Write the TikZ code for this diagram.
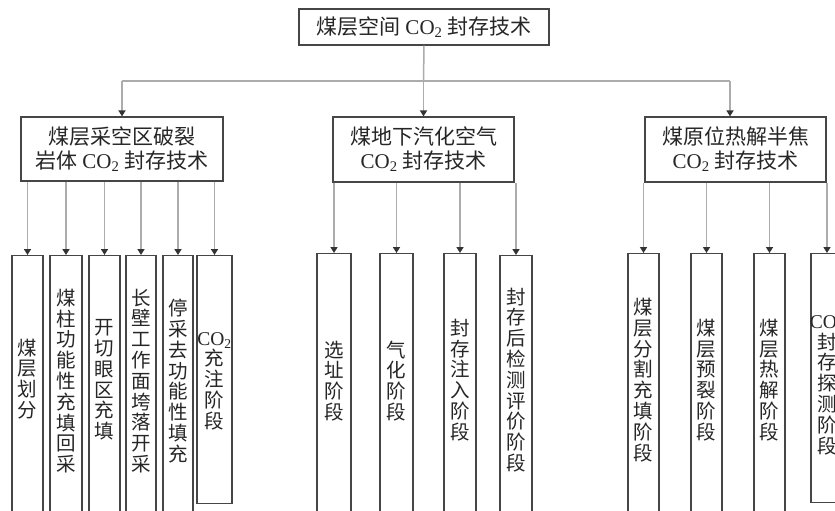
\documentclass[tikz,border=0pt]{standalone}
\usepackage{fontspec}
\setmainfont{Liberation Serif}
\newfontfamily\cjk{Noto Sans CJK SC}
\usetikzlibrary{arrows.meta}
\newcommand\cotwo{{\rmfamily CO\textsubscript{2}}}
\begin{document}
\begin{tikzpicture}[x=1pt,y=-1pt,
 box/.style={draw=gray!55!black, line width=1.2pt, inner sep=0pt, font=\cjk\fontsize{21}{24}\selectfont, align=center, text=black!85},
 leaf/.style={draw=gray!55!black, line width=1.2pt, inner sep=0pt, anchor=north},
 vtext/.style={font=\cjk\fontsize{19.5}{20.8}\selectfont, align=center, inner sep=0pt, text=black!85},
 conn/.style={draw=gray!65, line width=1.5pt},
 arr/.style={conn, -{Triangle[width=7pt,length=6pt,color=black!80,fill=black!80]}}]
\useasboundingbox (0,0) rectangle (835,511);
\clip (0,0) rectangle (835,511);
\fill[white] (0,0) rectangle (835,511);

% top
\node[box, minimum width=250pt, minimum height=36pt] (top) at (424,27) {煤层空间 \cotwo{} 封存技术};
% mid
\node[box, minimum width=202pt, minimum height=64pt] (m1) at (122,149) {煤层采空区破裂\\岩体 \cotwo{} 封存技术};
\node[box, minimum width=181pt, minimum height=65pt] (m2) at (423.5,149.5) {煤地下汽化空气\\\cotwo{} 封存技术};
\node[box, minimum width=181pt, minimum height=65pt] (m3) at (735.5,149.5) {煤原位热解半焦\\\cotwo{} 封存技术};

\coordinate (bus) at (423.5,81);
\coordinate (b1) at (122,81);
\coordinate (b3) at (730,81);
\draw[conn] (top.south) -- (bus);
\draw[conn] (b1) -- (b3);
\draw[arr] (b1) -- (m1.north);
\draw[arr] (bus) -- (m2.north);
\draw[arr] (b3) -- (b3 |- m3.north);

% left leaves
\node[leaf, minimum width=31pt, minimum height=280pt] (a1) at (27.5,255) {};
\node[leaf, minimum width=32pt, minimum height=280pt] (a2) at (66,255) {};
\node[leaf, minimum width=31pt, minimum height=280pt] (a3) at (104.5,255) {};
\node[leaf, minimum width=30pt, minimum height=280pt] (a4) at (141,255) {};
\node[leaf, minimum width=30pt, minimum height=280pt] (a5) at (178,255) {};
\node[leaf, minimum width=35pt, minimum height=248pt] (a6) at (214.5,255) {};
\node[vtext] (ta1) at (27.5,379) {煤\\层\\划\\分};
\node[vtext] (ta2) at (66,381) {煤\\柱\\功\\能\\性\\充\\填\\回\\采};
\node[vtext] (ta3) at (104.5,380) {开\\切\\眼\\区\\充\\填};
\node[vtext] (ta4) at (141,381) {长\\壁\\工\\作\\面\\垮\\落\\开\\采};
\node[vtext] (ta5) at (178,381) {停\\采\\去\\功\\能\\性\\填\\充};
\node[vtext] (ta6) at (214.5,381) {\cotwo\\充\\注\\阶\\段};
\foreach \n in {a1,a2,a3,a4,a5,a6} \draw[arr] (m1.south -| \n.north) -- (\n.north);

% middle leaves
\node[leaf, minimum width=34pt, minimum height=280pt] (b1l) at (334,253) {};
\node[leaf, minimum width=33pt, minimum height=280pt] (b2l) at (396.5,253) {};
\node[leaf, minimum width=32pt, minimum height=280pt] (b3l) at (460,253) {};
\node[leaf, minimum width=32pt, minimum height=280pt] (b4l) at (516,255) {};
\node[vtext] (tb1) at (334,381) {选\\址\\阶\\段};
\node[vtext] (tb2) at (396.5,381) {气\\化\\阶\\段};
\node[vtext] (tb3) at (460,380) {封\\存\\注\\入\\阶\\段};
\node[vtext] (tb4) at (516,380) {封\\存\\后\\检\\测\\评\\价\\阶\\段};
\foreach \n in {b1l,b2l,b3l,b4l} \draw[arr] (m2.south -| \n.north) -- (\n.north);

% right leaves
\node[leaf, minimum width=31pt, minimum height=280pt] (c1) at (643.5,253) {};
\node[leaf, minimum width=31pt, minimum height=280pt] (c2) at (706.5,253) {};
\node[leaf, minimum width=31pt, minimum height=280pt] (c3) at (769.5,253) {};
\node[leaf, minimum width=32pt, minimum height=249pt] (c4) at (827,253) {};
\node[vtext] (tc1) at (643.5,380) {煤\\层\\分\\割\\充\\填\\阶\\段};
\node[vtext] (tc2) at (706.5,380) {煤\\层\\预\\裂\\阶\\段};
\node[vtext] (tc3) at (769.5,380) {煤\\层\\热\\解\\阶\\段};
\node[vtext] (tc4) at (827,385) {\cotwo\\封\\存\\探\\测\\阶\\段};
\foreach \n in {c1,c2,c3,c4} \draw[arr] (m3.south -| \n.north) -- (\n.north);
\end{tikzpicture}
\end{document}
